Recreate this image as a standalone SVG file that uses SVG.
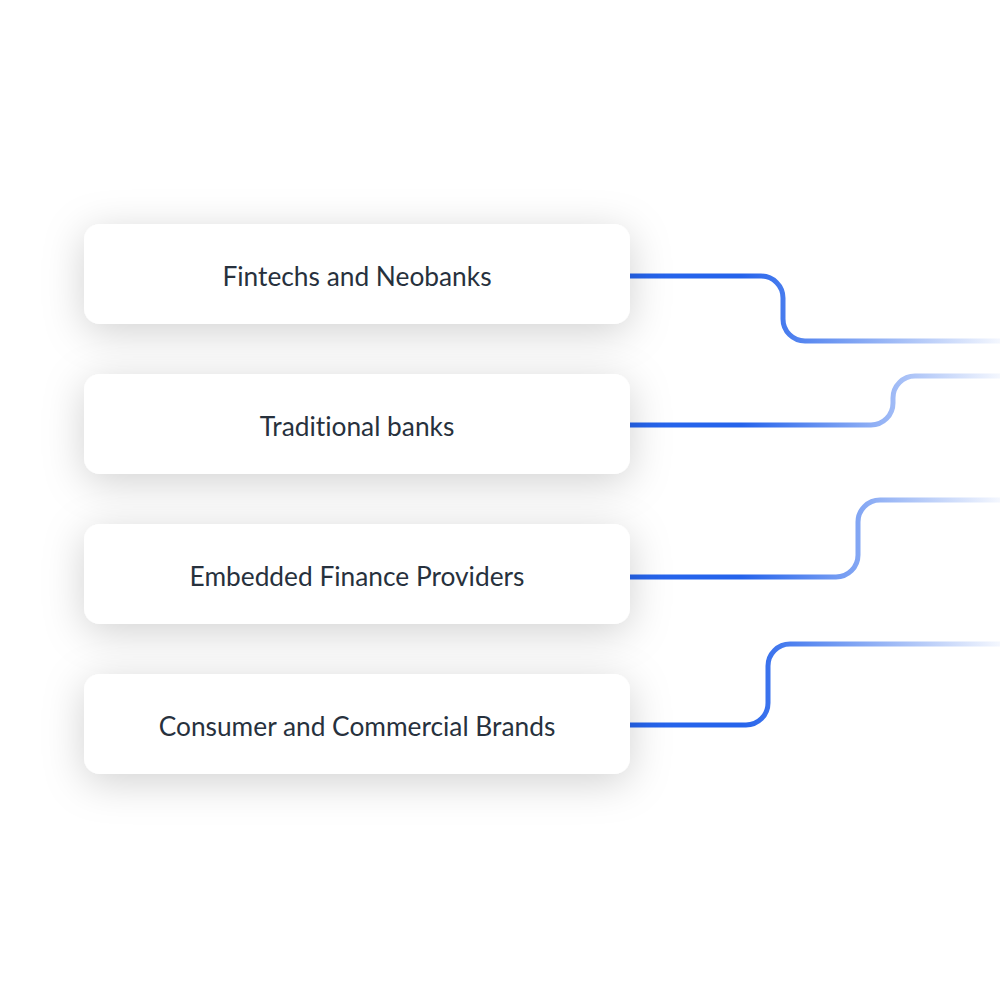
<svg xmlns="http://www.w3.org/2000/svg" width="1000" height="1000" viewBox="0 0 1000 1000">
<defs>
<filter id="sh" x="-20%" y="-70%" width="140%" height="260%">
<feDropShadow dx="0" dy="8" stdDeviation="20" flood-color="#000" flood-opacity="0.18"/>
</filter>
<linearGradient id="fade" gradientUnits="userSpaceOnUse" x1="630" y1="0" x2="1000" y2="0">
<stop offset="0" stop-color="#2563EB" stop-opacity="1"/>
<stop offset="0.3" stop-color="#2563EB" stop-opacity="1"/>
<stop offset="1" stop-color="#2563EB" stop-opacity="0.05"/>
</linearGradient>
<style>
.box{fill:#ffffff;filter:url(#sh)}
.lbl{font-family:Lato,"Open Sans",sans-serif;font-size:26.3px;fill:#27313d;text-anchor:middle;font-variant-ligatures:none}
.con{fill:none;stroke:url(#fade);stroke-width:5}
</style>
</defs>
<rect width="1000" height="1000" fill="#ffffff"/>
<g id="connectors">
<path class="con" d="M630,276 H761 A22,22 0 0 1 783,298 V319 A22,22 0 0 0 805,341 H1000"/>
<path class="con" d="M630,425 H871 A22,22 0 0 0 893,403 V398 A22,22 0 0 1 915,376 H1000"/>
<path class="con" d="M630,577 H836 A22,22 0 0 0 858,555 V522 A22,22 0 0 1 880,500 H1000"/>
<path class="con" d="M630,725 H746 A22,22 0 0 0 768,703 V666 A22,22 0 0 1 790,644 H1000"/>
</g>
<g id="node1"><rect class="box" x="84" y="224" width="546" height="100" rx="16"/><text class="lbl" x="357" y="285.5">Fintechs and Neobanks</text></g>
<g id="node2"><rect class="box" x="84" y="374" width="546" height="100" rx="16"/><text class="lbl" x="357" y="435.5">Traditional banks</text></g>
<g id="node3"><rect class="box" x="84" y="524" width="546" height="100" rx="16"/><text class="lbl" x="357" y="585.5">Embedded Finance Providers</text></g>
<g id="node4"><rect class="box" x="84" y="674" width="546" height="100" rx="16"/><text class="lbl" x="357" y="735.5">Consumer and Commercial Brands</text></g>
</svg>
